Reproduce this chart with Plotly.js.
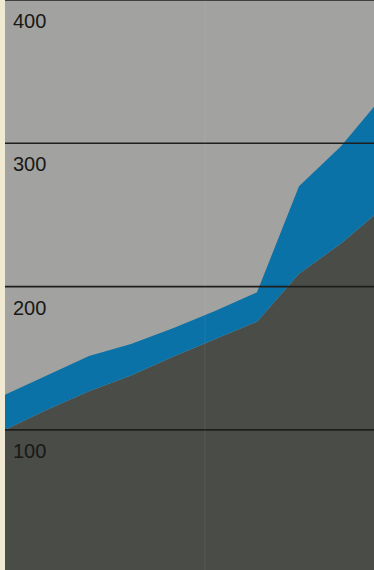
<!DOCTYPE html>
<html>
<head>
<meta charset="utf-8">
<script src="https://cdn.plot.ly/plotly-3.0.1.min.js"></script>
<style>
html,body{margin:0;padding:0;background:#f1ead2;}
#chart{width:374px;height:570px;}
</style>
</head>
<body>
<div id="chart"></div>
<script>
// Data (evenly spaced periods)
const periods = [0, 1, 2, 3, 4, 5, 6, 7, 8, 9];
const darkSeries = [100, 114, 127, 138, 151, 163, 175.5, 209, 230, 255];
const blueSeries = [24.5, 24, 24.5, 22, 20, 20, 20.5, 61, 68, 78];
const tickValues = [100, 200, 300, 400];
const tickLabels = ["100", "200", "300", "400"];

const traces = [
  {
    x: periods, y: darkSeries, type: 'scatter', mode: 'lines',
    stackgroup: 'one', fill: 'tozeroy',
    fillcolor: '#4a4c48', line: {width: 0, color: '#4a4c48'},
    hoverinfo: 'skip'
  },
  {
    x: periods, y: blueSeries, type: 'scatter', mode: 'lines',
    stackgroup: 'one', fill: 'tonexty',
    fillcolor: '#0a72a6', line: {width: 0, color: '#0a72a6'},
    hoverinfo: 'skip'
  }
];

const shapes = tickValues.map(v => ({
  type: 'line', xref: 'paper', yref: 'y', x0: 0, x1: 1, y0: v, y1: v,
  line: {color: '#1e1f1d', width: 1.6}, layer: 'above'
}));
shapes.push({
  type: 'line', xref: 'paper', yref: 'paper', x0: 0.542, x1: 0.542, y0: 0, y1: 1,
  line: {color: 'rgba(255,255,255,0.035)', width: 2}, layer: 'above'
});

const annotations = tickValues.map((v, i) => ({
  text: tickLabels[i], xref: 'paper', yref: 'y', x: 0, y: v,
  xanchor: 'left', yanchor: 'middle', xshift: 6, yshift: -21,
  showarrow: false,
  font: {family: 'Liberation Sans, Arial, sans-serif', size: 20, color: '#181816'}
}));

const layout = {
  width: 374, height: 570,
  margin: {l: 5, r: 0, t: 0, b: 0, pad: 0},
  paper_bgcolor: '#f1ead2',
  plot_bgcolor: '#a2a2a0',
  showlegend: false,
  xaxis: {range: [0, 8.786], showgrid: false, zeroline: false, showticklabels: false, showline: false, fixedrange: true},
  yaxis: {range: [2.2, 400], showgrid: false, zeroline: false, showticklabels: false, showline: false, fixedrange: true},
  shapes: shapes,
  annotations: annotations
};

Plotly.newPlot('chart', traces, layout, {displayModeBar: false, staticPlot: true});
</script>
</body>
</html>
